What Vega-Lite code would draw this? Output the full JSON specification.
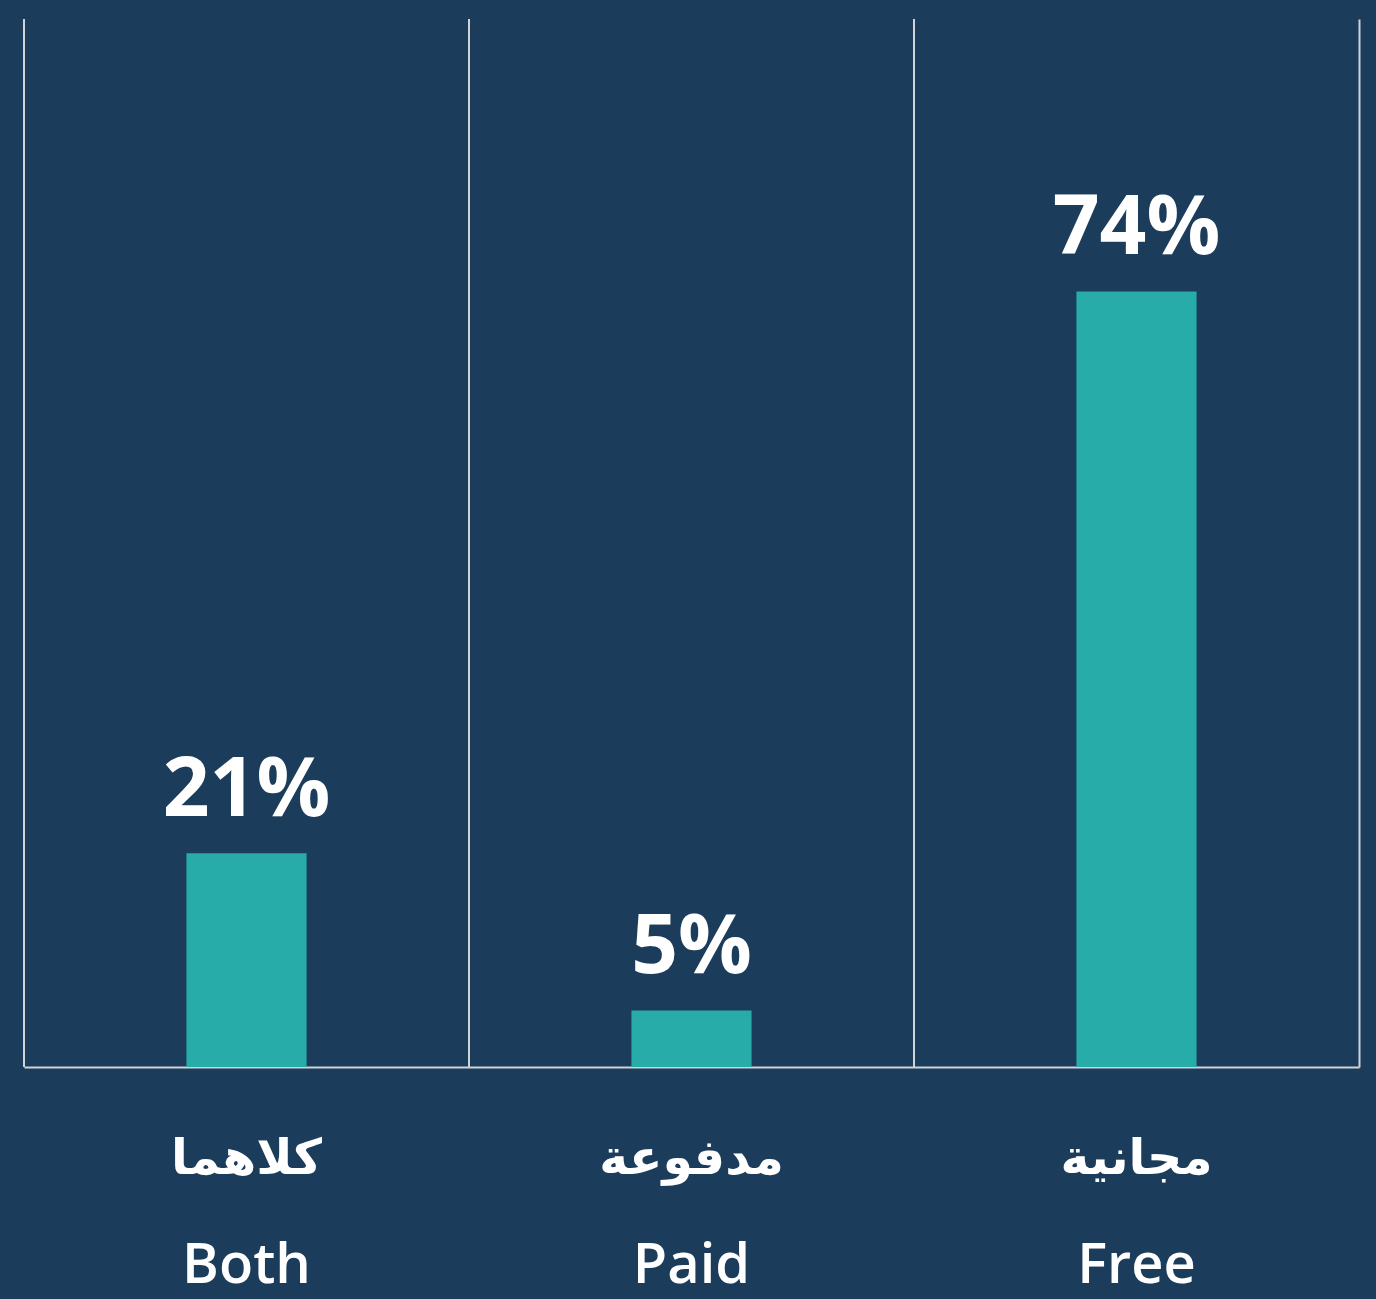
{
  "$schema": "https://vega.github.io/schema/vega-lite/v6.json",
  "width": 1335,
  "height": 1048,
  "autosize": {"type": "none"},
  "padding": {"left": 24, "top": 19, "right": 17, "bottom": 232},
  "background": "#1b3c5a",
  "config": {"view": {"stroke": null}},
  "data": {"values": [
    {"cat": "Both", "ar": "كلاهما", "value": 20.4, "label": "21%"},
    {"cat": "Paid", "ar": "مدفوعة", "value": 5.4, "label": "5%"},
    {"cat": "Free", "ar": "مجانية", "value": 74, "label": "74%"}
  ]},
  "resolve": {"axis": {"x": "independent"}},
  "layer": [
    {
      "mark": {"type": "rule", "color": "#d0d4d9", "strokeWidth": 2},
      "encoding": {
        "x": {"field": "cat", "type": "nominal", "sort": null, "bandPosition": 0,
              "scale": {"paddingInner": 0, "paddingOuter": 0}, "axis": null}
      }
    },
    {
      "mark": {"type": "bar", "color": "#27acaa", "width": {"band": 0.27}},
      "encoding": {
        "x": {"field": "cat", "type": "nominal", "sort": null,
              "axis": {"orient": "bottom", "title": null, "domain": true, "domainColor": "#d0d4d9", "domainWidth": 2,
                       "ticks": false, "grid": false, "labelAngle": 0, "labelLimit": 400,
                       "labelExpr": "datum.value == 'Both' ? 'كلاهما' : datum.value == 'Paid' ? 'مدفوعة' : 'مجانية'",
                       "labelFont": "DejaVu Sans", "labelFontWeight": "bold", "labelFontSize": 49,
                       "labelColor": "#ffffff", "labelBaseline": "middle", "labelPadding": 91}},
        "y": {"field": "value", "type": "quantitative", "scale": {"domain": [0, 100]},
              "axis": {"orient": "right", "title": null, "labels": false, "ticks": false, "grid": false,
                       "domain": true, "domainColor": "#d0d4d9", "domainWidth": 2}}
      }
    },
    {
      "mark": {"type": "text", "color": "#ffffff", "font": "Open Sans", "fontWeight": "bold",
               "fontSize": 82, "baseline": "alphabetic", "dy": -37},
      "encoding": {
        "x": {"field": "cat", "type": "nominal", "sort": null,
              "axis": {"orient": "bottom", "title": null, "domain": false, "ticks": false, "grid": false, "labelAngle": 0,
                       "labelLimit": 400,
                       "labelFont": "Open Sans", "labelFontWeight": 600, "labelFontSize": 56,
                       "labelColor": "#ffffff", "labelBaseline": "middle", "labelPadding": 198}},
        "y": {"field": "value", "type": "quantitative"},
        "text": {"field": "label"}
      }
    }
  ]
}
